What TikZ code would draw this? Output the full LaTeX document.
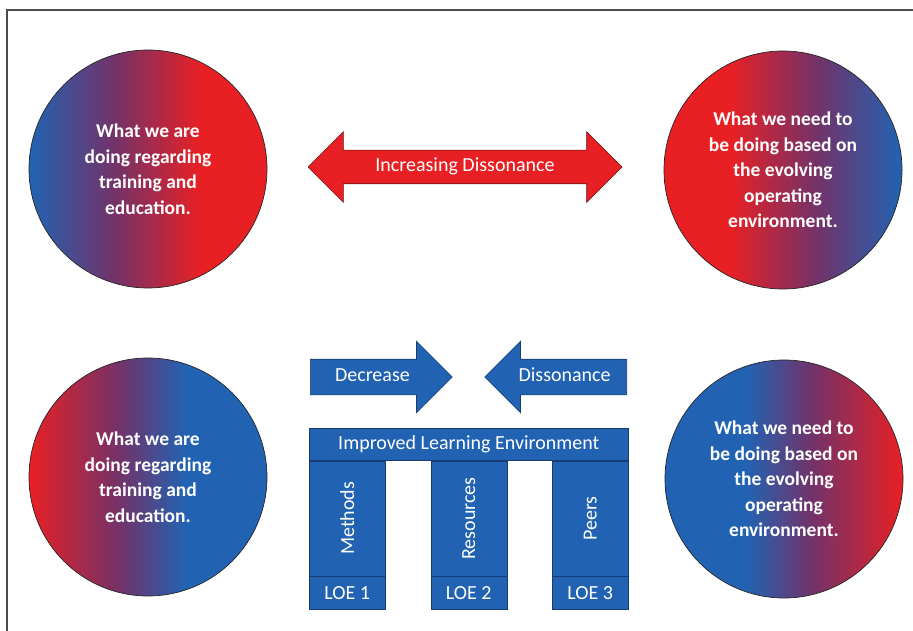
\documentclass[tikz,border=0pt]{standalone}
\usepackage{fontspec}
\setmainfont{Carlito}
\usepackage{graphicx}
\usetikzlibrary{shapes.arrows,positioning}

\definecolor{loeblue}{RGB}{33,99,178}
\definecolor{loeedge}{RGB}{22,60,115}
\definecolor{gapred}{RGB}{232,32,36}
\definecolor{gapedge}{RGB}{110,20,20}
\definecolor{midpurple}{RGB}{115,50,105}

\pgfdeclarehorizontalshading{bluered early}{100bp}{color(0bp)=(loeblue); color(25bp)=(loeblue); color(43bp)=(midpurple); color(61bp)=(gapred); color(100bp)=(gapred)}
\pgfdeclarehorizontalshading{redblue early}{100bp}{color(0bp)=(gapred); color(25bp)=(gapred); color(44bp)=(midpurple); color(58bp)=(loeblue); color(100bp)=(loeblue)}
\pgfdeclarehorizontalshading{redblue late}{100bp}{color(0bp)=(gapred); color(39bp)=(gapred); color(57bp)=(midpurple); color(75bp)=(loeblue); color(100bp)=(loeblue)}
\pgfdeclarehorizontalshading{bluered late}{100bp}{color(0bp)=(loeblue); color(42bp)=(loeblue); color(56bp)=(midpurple); color(75bp)=(gapred); color(100bp)=(gapred)}

\begin{document}
\begin{tikzpicture}[
                    x = 1pt,
                    y = -1pt,
                    view/.style = {circle, draw = black!85, line width = 0.7pt, shade, minimum size = 238pt,
                                   inner sep = 0pt, align = center, text = white,
                                   font = \fontsize{19.5}{25.5}\selectfont\bfseries},
                    label/.style = {text = white, font = \fontsize{20}{23}\selectfont},
                    loebox/.style = {label, draw = loeedge, fill = loeblue, line width = 0.6pt, inner sep = 0pt},
                    pillar/.style = {loebox, minimum width = 76pt, minimum height = 115pt},
                    loetag/.style = {loebox, minimum width = 76pt, minimum height = 33pt},
                    push/.style = {loebox, single arrow, single arrow head extend = 18pt, minimum height = 142pt,
                                   text height = 13pt, text depth = 4pt, inner ysep = 9pt, inner xsep = 3pt},
                    gap/.style = {label, double arrow, double arrow head extend = 18.5pt, minimum height = 314pt,
                                  fill = gapred, draw = gapedge, line width = 0.6pt,
                                  text height = 13pt, text depth = 4pt, inner ysep = 8pt}]
    \useasboundingbox (0,0) rectangle (913,631);
    \draw[black!70, line width = 1.4pt] (7,631) -- (7,10) -- (913,10);

    \node[view, shading = bluered early] (now1)  at (148,169) {What we are\\doing regarding\\training and\\education.};
    \node[view, shading = redblue late]  (need1) at (783,170) {What we need to\\be doing based on\\the evolving\\operating\\environment.};
    \node[view, shading = redblue early] (now2)  at (148,477) {What we are\\doing regarding\\training and\\education.};
    \node[view, shading = bluered late]  (need2) at (784,479) {What we need to\\be doing based on\\the evolving\\operating\\environment.};

    \node[gap] (dissonance) at (465,167) {Increasing Dissonance};

    \node[push, anchor = tail]                           (decrease) at (310,377) {Decrease};
    \node[push, anchor = tail, shape border rotate = 180] (reduce)   at (627,377) {Dissonance};

    \node[loebox, minimum width = 319pt, minimum height = 32pt, anchor = north west] (ile) at (309,428) {Improved Learning Environment};
    \node[pillar, below right = 0pt and 0pt of ile.south west] (methods)   {\rotatebox{90}{Methods}};
    \node[pillar, below = 0pt of ile.south]                    (resources) {\rotatebox{90}{Resources}};
    \node[pillar, below left = 0pt and 0pt of ile.south east]  (peers)     {\rotatebox{90}{Peers}};
    \node[loetag, below = 0pt of methods]   (loe1) {LOE 1};
    \node[loetag, below = 0pt of resources] (loe2) {LOE 2};
    \node[loetag, below = 0pt of peers]     (loe3) {LOE 3};
\end{tikzpicture}
\end{document}
